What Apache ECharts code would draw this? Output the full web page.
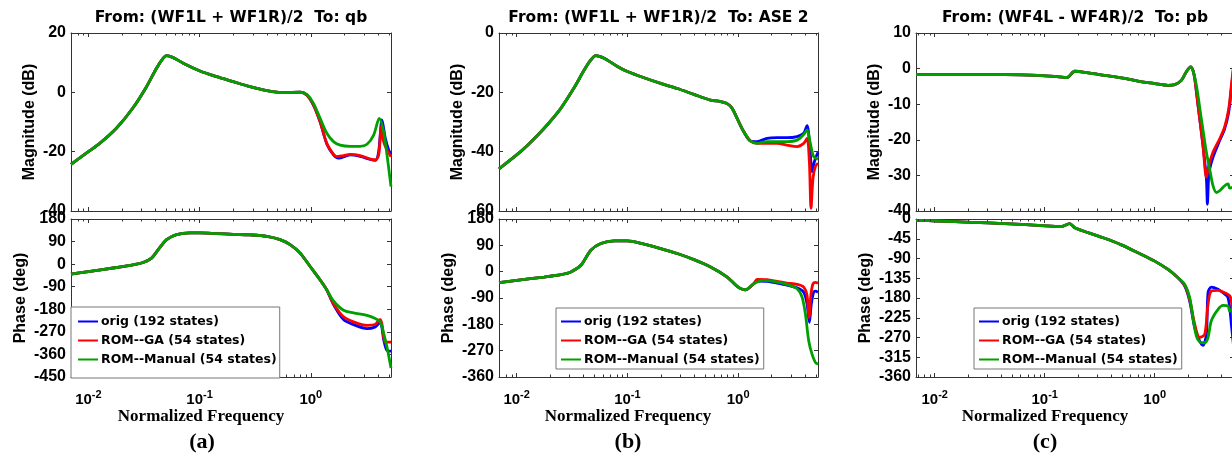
<!DOCTYPE html>
<html><head><meta charset="utf-8">
<script src="https://cdn.jsdelivr.net/npm/echarts@6/dist/echarts.min.js"></script>
<style>html,body{margin:0;padding:0;background:#fff}#c{width:1232px;height:455px}</style>
</head><body><div id="c"></div>
<script>
// ---------- names ----------
const seriesNames = ['orig (192 states)', 'ROM--GA (54 states)', 'ROM--Manual (54 states)'];
const seriesColors = ['#0000ff', '#ff0000', '#00a000'];
const titles = ['From: (WF1L + WF1R)/2  To: qb', 'From: (WF1L + WF1R)/2  To: ASE 2', 'From: (WF4L - WF4R)/2  To: pb'];
const tags = ['(a)', '(b)', '(c)'];
const xLabelText = 'Normalized Frequency';
const minorTicks = [0.007, 0.008, 0.009, 0.02, 0.03, 0.04, 0.05, 0.06, 0.07, 0.08, 0.09,
  0.2, 0.3, 0.4, 0.5, 0.6, 0.7, 0.8, 0.9, 2, 3, 4, 5];

// ---------- panel (a) ----------
const magA_common = [[0.00698,-24.3],[0.01,-20.0],[0.01265,-17.2],[0.01786,-12.1],[0.02523,-5.2],[0.03334,1.9],[0.0410,8.1],[0.0471,11.5],[0.0505,12.4],[0.0579,11.7],[0.0713,9.8],[0.1007,7.2],[0.1422,5.3],[0.2009,3.6],[0.2838,1.9],[0.4018,0.6],[0.5675,-0.1],[0.8017,0.1]];
const magA_orig = [[0.9204,-0.9],[1.057,-4.3],[1.213,-10.0],[1.393,-17.4],[1.600,-21.1],[1.774,-22.2],[2.259,-21.1],[2.780,-21.6],[3.428,-22.6],[3.802,-22.9],[4.074,-20.0],[4.365,-9.3],[4.677,-15.5],[5.012,-19.4],[5.26,-20.9]];
const magA_ga = [[0.9204,-0.9],[1.057,-4.3],[1.213,-9.9],[1.393,-17.2],[1.600,-20.9],[1.714,-21.7],[1.968,-21.3],[2.259,-20.9],[2.780,-21.3],[3.428,-22.5],[3.802,-22.8],[4.074,-21.1],[4.305,-11.6],[4.519,-16.6],[4.842,-19.4],[5.26,-21.7]];
const magA_man = [[0.9204,-0.7],[1.057,-3.7],[1.213,-8.8],[1.393,-13.8],[1.600,-16.6],[1.837,-17.8],[2.259,-18.2],[2.780,-18.2],[3.199,-17.5],[3.673,-14.4],[4.130,-8.8],[4.519,-13.3],[4.842,-21.1],[5.26,-31.8]];
const phA_common = [[0.00698,-40],[0.01,-29.5],[0.01786,-13.4],[0.02523,-2.7],[0.03105,6.7],[0.03698,24],[0.04246,57.6],[0.0505,97.8],[0.0621,118],[0.08185,124.6],[0.1007,124.6],[0.1422,122],[0.2009,119],[0.2838,116.6],[0.4018,111],[0.5297,97.8],[0.6516,77.7],[0.8017,44],[0.9863,-9.4],[1.213,-63],[1.393,-103]];
const phA_orig = [[1.600,-161],[1.968,-221],[2.421,-241],[3.199,-257],[3.802,-250],[4.074,-237],[4.217,-232],[4.365,-255],[4.519,-300],[4.842,-344],[5.26,-347]];
const phA_ga = [[1.600,-158],[1.968,-210],[2.421,-230],[3.199,-244],[3.802,-240],[4.074,-224],[4.217,-221],[4.365,-240],[4.519,-290],[4.677,-311],[5.26,-311]];
const phA_man = [[1.600,-147],[1.968,-184],[2.421,-194],[3.199,-204],[3.802,-217],[4.217,-230],[4.519,-276],[4.842,-331],[5.26,-414]];

// ---------- panel (b) ----------
const magB_common = [[0.00693,-45.8],[0.01,-41.1],[0.01256,-37.8],[0.01774,-32.1],[0.02506,-25.4],[0.03311,-18.4],[0.04074,-12.5],[0.04677,-9.1],[0.05188,-7.6],[0.06166,-8.5],[0.08128,-11.3],[0.1,-13.0],[0.1413,-15.1],[0.1995,-17.0],[0.2818,-18.7],[0.3990,-20.7],[0.5636,-22.6],[0.6934,-23.1],[0.7962,-23.8],[0.8831,-25.4],[0.9795,-28.8],[1.125,-33.3],[1.291,-36.4]];
const magB_orig = [[1.483,-36.6],[1.824,-35.5],[2.244,-35.3],[2.761,-35.3],[3.404,-34.9],[3.908,-33.8],[4.188,-31.2],[4.426,-37.8],[4.645,-46.7],[4.875,-43.4],[5.26,-40.2]];
const magB_ga = [[1.483,-37.2],[1.824,-37.2],[2.244,-37.2],[2.761,-37.8],[3.404,-38.3],[3.908,-37.2],[4.188,-35.5],[4.395,-43.4],[4.550,-59.1],[4.742,-48.9],[4.977,-45.0],[5.26,-43.9]];
const magB_man = [[1.483,-37.2],[1.824,-36.6],[2.244,-36.6],[2.761,-36.6],[3.404,-36.1],[3.908,-34.2],[4.188,-32.7],[4.487,-37.2],[4.808,-41.7],[5.26,-42.5]];
const phB_common = [[0.00693,-37.8],[0.01,-29.8],[0.01774,-18.3],[0.02506,-10.3],[0.03083,-1.1],[0.03802,21.8],[0.04677,73.3],[0.05754,96.3],[0.07586,105.4],[0.1,105.4],[0.1413,94],[0.1995,79],[0.2818,62],[0.3990,41],[0.5636,16],[0.7962,-18.3],[0.9795,-50],[1.164,-62],[1.384,-41]];
const phB_orig = [[1.483,-32],[1.824,-33.2],[2.244,-39],[2.761,-45.8],[3.404,-55],[3.908,-70],[4.188,-110],[4.395,-173],[4.581,-110],[4.808,-70],[4.977,-66.5],[5.26,-70]];
const phB_ga = [[1.483,-26.4],[1.824,-27.5],[2.244,-33.2],[2.761,-39],[3.404,-43.5],[3.908,-52.7],[4.188,-81],[4.365,-156],[4.550,-75.6],[4.742,-41.3],[4.977,-36.7],[5.26,-39]];
const phB_man = [[1.702,-30],[2.244,-35.5],[2.761,-43.5],[3.404,-58.4],[3.776,-87],[4.046,-144],[4.335,-236],[4.645,-282],[4.977,-310],[5.26,-316]];

// ---------- panel (c) ----------
const magC_common = [[0.00676,-1.7],[0.01072,-1.7],[0.02153,-1.7],[0.04325,-1.7],[0.06138,-1.75],[0.0869,-1.9],[0.1233,-2.2],[0.1596,-2.5],[0.1875,-0.75],[0.2477,-1.2],[0.3508,-1.9],[0.4977,-2.6],[0.7047,-3.5],[1.0,-4.2],[1.321,-4.7],[1.521,-4.5],[1.746,-3.3],[1.941,-0.9],[2.123,0.5],[2.228,-0.5]];
const magC_orig = [[2.312,-2.8],[2.477,-10.3],[2.748,-21.6],[2.951,-31.0],[3.013,-38.1],[3.097,-30.0],[3.162,-28.2],[3.388,-24.9],[3.899,-20.2],[4.325,-16.9],[4.710,-12.2],[5.012,-4.7],[5.26,1]];
const magC_ga = [[2.312,-2.8],[2.477,-10.3],[2.748,-21.6],[2.951,-30.5],[3.097,-27.3],[3.388,-23.5],[3.899,-19.7],[4.325,-16.4],[4.710,-11.3],[5.012,-3.8],[5.26,2]];
const magC_man = [[2.393,-4.7],[2.655,-14.1],[2.951,-23.5],[3.162,-28.2],[3.388,-32.9],[3.639,-34.8],[3.899,-34.3],[4.325,-32.9],[4.645,-32.4],[4.808,-33.6],[5.012,-33.4],[5.26,-33.2]];
const phC_common = [[0.00676,-3],[0.01072,-4.6],[0.02153,-7.6],[0.04325,-10.6],[0.0869,-14.4],[0.1419,-17.5],[0.1687,-10.6],[0.1875,-19.7],[0.2477,-31],[0.3508,-44],[0.4977,-59],[0.7047,-77],[1.0,-96],[1.321,-115],[1.629,-134]];
const phC_orig = [[1.875,-153],[2.080,-187],[2.312,-248],[2.564,-278],[2.748,-288],[2.951,-263],[3.055,-168],[3.273,-155],[3.767,-160],[4.178,-168],[4.645,-179],[5.012,-248],[5.26,-300]];
const phC_ga = [[1.875,-151],[2.080,-183],[2.312,-240],[2.564,-270],[2.851,-263],[3.055,-194],[3.273,-164],[3.767,-162.5],[4.325,-168],[4.808,-175],[5.012,-191],[5.26,-260]];
const phC_man = [[1.875,-149],[2.080,-179],[2.228,-225],[2.393,-267],[2.564,-280],[2.851,-282],[3.055,-270],[3.273,-232],[3.767,-206],[4.178,-197],[4.645,-198],[4.808,-210],[5.012,-206],[5.26,-206]];

// ---------- layout ----------
const panels = [
  { left: 71, width: 320, xmin: 0.00698, xmax: 5.26,
    mag: { min: -40, max: 20, interval: 20 }, ph: { min: -450, max: 180, interval: 90 },
    magData: [magA_common.concat(magA_orig), magA_common.concat(magA_ga), magA_common.concat(magA_man)],
    phData: [phA_common.concat(phA_orig), phA_common.concat(phA_ga), phA_common.concat(phA_man)],
    legend: { left: 71, top: 307, padding: [8, 3, 12, 6] }, xlabelX: 201, tagX: 202 },
  { left: 499, width: 319, xmin: 0.00693, xmax: 5.26,
    mag: { min: -60, max: 0, interval: 20 }, ph: { min: -360, max: 180, interval: 90 },
    magData: [magB_common.concat(magB_orig), magB_common.concat(magB_ga), magB_common.concat(magB_man)],
    phData: [phB_common.concat(phB_orig), phB_common.concat(phB_ga), phB_common.concat(phB_man)],
    legend: { left: 556, top: 308, padding: [7, 4, 3, 4] }, xlabelX: 628, tagX: 628 },
  { left: 916, width: 318, xmin: 0.00676, xmax: 5.26,
    mag: { min: -40, max: 10, interval: 10 }, ph: { min: -360, max: 0, interval: 45 },
    magData: [magC_common.concat(magC_orig), magC_common.concat(magC_ga), magC_common.concat(magC_man)],
    phData: [phC_common.concat(phC_orig), phC_common.concat(phC_ga), phC_common.concat(phC_man)],
    legend: { left: 974, top: 308, padding: [7, 4, 3, 4] }, xlabelX: 1045, tagX: 1045 }
];
const magTop = 33, magH = 178, phTop = 219, phH = 158;
const axisColor = '#333';
const sansBold = { fontFamily: 'Liberation Sans, Arial, sans-serif', fontWeight: 'bold', color: '#000' };

const grids = [], xAxes = [], yAxes = [], series = [], legends = [], graphics = [];

function minorTickSeries(g, xmin, xmax, ymin, ymax) {
  const data = minorTicks.filter(v => v > xmin * 1.01 && v < xmax * 0.99).map(v => [v, ymin]);
  return {
    type: 'custom', xAxisIndex: 2 * g, yAxisIndex: 2 * g, silent: true, clip: false, z: 5,
    animation: false, data,
    renderItem: (params, api) => {
      const b = api.coord([api.value(0), ymin]);
      const t = api.coord([api.value(0), ymax]);
      const x = Math.round(b[0]) + 0.5;
      return { type: 'group', children: [
        { type: 'line', shape: { x1: x, y1: b[1], x2: x, y2: b[1] - 2.5 }, style: { stroke: axisColor, lineWidth: 1 } },
        { type: 'line', shape: { x1: x, y1: t[1], x2: x, y2: t[1] + 2.5 }, style: { stroke: axisColor, lineWidth: 1 } }
      ] };
    }
  };
}

panels.forEach((p, i) => {
  [['mag', magTop, magH], ['ph', phTop, phH]].forEach(([kind, top, h], k) => {
    const g = 2 * i + k;
    const yr = p[kind];
    grids.push({ left: p.left, top: top, width: p.width, height: h, containLabel: false, outerBoundsMode: 'none' });
    const showX = kind === 'ph';
    xAxes.push({
      type: 'log', gridIndex: g, position: 'bottom', min: p.xmin, max: p.xmax, logBase: 10,
      axisLine: { show: true, onZero: false, lineStyle: { color: axisColor, width: 1 } },
      axisTick: { show: true, inside: true, length: 4, lineStyle: { color: axisColor } },
      splitLine: { show: false }, minorTick: { show: false },
      axisLabel: {
        show: showX, margin: 11, showMinLabel: false, showMaxLabel: false,
        formatter: v => '{b|10}{s|' + Math.round(Math.log10(v)) + '}',
        rich: {
          b: { fontFamily: 'Liberation Sans, Arial', fontWeight: 'bold', fontSize: 15, color: '#000', lineHeight: 19, verticalAlign: 'bottom' },
          s: { fontFamily: 'Liberation Sans, Arial', fontWeight: 'bold', fontSize: 11, color: '#000', lineHeight: 19, verticalAlign: 'bottom', padding: [0, 0, 7, 0] }
        }
      }
    });
    xAxes.push({
      type: 'log', gridIndex: g, position: 'top', min: p.xmin, max: p.xmax, logBase: 10,
      axisLine: { show: true, onZero: false, lineStyle: { color: axisColor, width: 1 } },
      axisTick: { show: true, inside: true, length: 4, lineStyle: { color: axisColor } },
      axisLabel: { show: false }, splitLine: { show: false }
    });
    yAxes.push({
      type: 'value', gridIndex: g, position: 'left', min: yr.min, max: yr.max, interval: yr.interval,
      name: kind === 'mag' ? 'Magnitude (dB)' : 'Phase (deg)', nameLocation: 'middle', nameRotate: 90,
      nameGap: kind === 'mag' ? 33 : 42,
      nameTextStyle: Object.assign({ fontSize: 16 }, sansBold),
      axisLine: { show: true, onZero: false, lineStyle: { color: axisColor, width: 1 } },
      axisTick: { show: true, inside: true, length: 4, lineStyle: { color: axisColor } },
      splitLine: { show: false },
      axisLabel: Object.assign({ fontSize: 16, margin: 5, hideOverlap: false }, sansBold)
    });
    yAxes.push({
      type: 'value', gridIndex: g, position: 'right', min: yr.min, max: yr.max, interval: yr.interval,
      axisLine: { show: true, onZero: false, lineStyle: { color: axisColor, width: 1 } },
      axisTick: { show: true, inside: true, length: 4, lineStyle: { color: axisColor } },
      splitLine: { show: false }, axisLabel: { show: false }
    });
    const data3 = kind === 'mag' ? p.magData : p.phData;
    data3.forEach((d, s) => {
      series.push({
        type: 'line', name: seriesNames[s], xAxisIndex: 2 * g, yAxisIndex: 2 * g, data: d,
        symbol: 'none', showSymbol: false, smooth: 0.3, clip: true, animation: false, z: 2 + s,
        lineStyle: { color: seriesColors[s], width: 2.8 }, itemStyle: { color: seriesColors[s] }
      });
    });
    series.push(minorTickSeries(g, p.xmin, p.xmax, yr.min, yr.max));
  });
  legends.push({
    orient: 'vertical', left: p.legend.left, top: p.legend.top, padding: p.legend.padding,
    data: seriesNames, itemWidth: 20, itemHeight: 13, itemGap: 6,
    backgroundColor: '#fff', borderColor: '#777', borderWidth: 1, borderRadius: 0,
    selectedMode: false, z: 10,
    lineStyle: { width: 2 },
    itemStyle: { opacity: 0, borderWidth: 0 },
    textStyle: { fontFamily: 'DejaVu Sans', fontWeight: 'bold', fontSize: 12.5, color: '#000', padding: [0, 0, 0, -2] }
  });
  graphics.push({ type: 'text', x: p.left + p.width / 2, y: 18, z: 10,
    style: { text: titles[i], textAlign: 'center', textVerticalAlign: 'middle',
      font: 'bold 15.5px "DejaVu Sans"', fill: '#000' } });
  graphics.push({ type: 'text', x: p.xlabelX, y: 417, z: 10,
    style: { text: xLabelText, textAlign: 'center', textVerticalAlign: 'middle',
      font: 'bold 17px "Liberation Serif", "Times New Roman", serif', fill: '#000' } });
  graphics.push({ type: 'text', x: p.tagX, y: 442, z: 10,
    style: { text: tags[i], textAlign: 'center', textVerticalAlign: 'middle',
      font: 'bold 22px "Liberation Serif", "Times New Roman", serif', fill: '#000' } });
});

const chart = echarts.init(document.getElementById('c'), null, { renderer: 'canvas' });
chart.setOption({
  backgroundColor: '#fff',
  animation: false,
  grid: grids, xAxis: xAxes, yAxis: yAxes, series: series, legend: legends,
  graphic: graphics
});
</script></body></html>
